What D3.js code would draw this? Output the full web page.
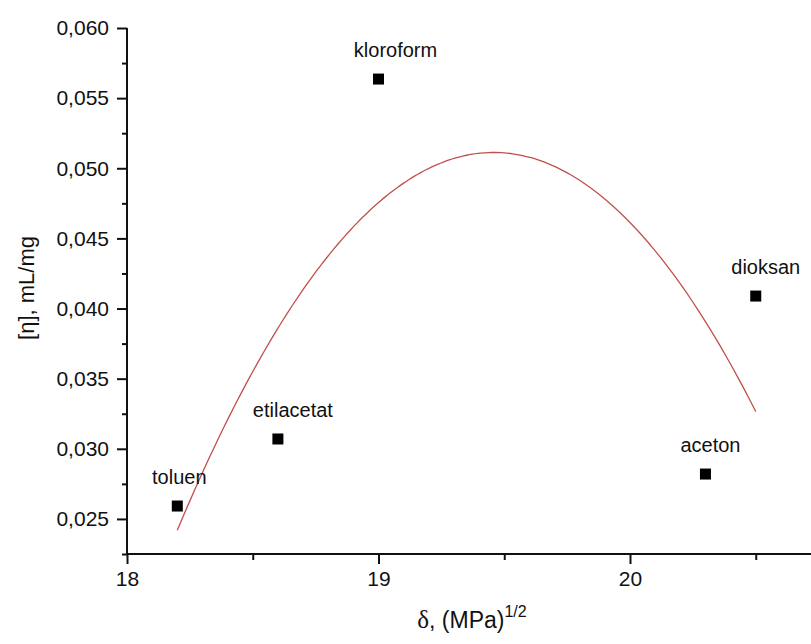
<!DOCTYPE html>
<html>
<head>
<meta charset="utf-8">
<script src="https://cdn.jsdelivr.net/npm/d3@7"></script>
<style>
  html, body { margin: 0; padding: 0; background: #fff; }
  svg { display: block; }
</style>
</head>
<body>
<div id="chart"></div>
<script>

// solvents and measured values
var solvents = ['toluen', 'etilacetat', 'kloroform', 'aceton', 'dioksan'];
var delta = [18.2, 18.6, 19.0, 20.3, 20.5];
var viscosity = [0.02592, 0.0307, 0.05636, 0.0282, 0.04089];

var xTicks = [18, 19, 20];
var xMinorTicks = [18.5, 19.5, 20.5];
var yTicks = [0.025, 0.030, 0.035, 0.040, 0.045, 0.050, 0.055, 0.060];
var yMinorTicks = [0.0225, 0.0275, 0.0325, 0.0375, 0.0425, 0.0475, 0.0525, 0.0575];

// hand placed label shifts (px), the labels were moved manually in the original
var labelDx = [2, 15, 17, 5, 10];

var width = 811,
    height = 644,
    margin = { top: 28, left: 127, bottom: 90 };

// the x axis runs on past the right edge of the picture
var x = d3.scaleLinear().domain([18, 21]).range([margin.left, margin.left + 3 * 251.5]);
var y = d3.scaleLinear().domain([0.0225, 0.060]).range([height - margin.bottom, margin.top]);

var fmt = function (d) { return d3.format('.3f')(d).replace('.', ','); };

/**
 * least squares 2nd order polynomial around the mean of xs
 * @return {Object} a + b*u + c*u^2 with u = x - m
 */
function polyFit2(xs, ys) {
  var n = xs.length, m = d3.mean(xs);
  var s2 = 0, s3 = 0, s4 = 0, sy = 0, suy = 0, su2y = 0;
  xs.forEach(function (xv, i) {
    var u = xv - m, yv = ys[i];
    s2 += u * u; s3 += u * u * u; s4 += u * u * u * u;
    sy += yv; suy += u * yv; su2y += u * u * yv;
  });
  // solve the 3x3 normal equations (sum u = 0)
  var c = (su2y - s2 * sy / n - s3 * suy / s2) / (s4 - s2 * s2 / n - s3 * s3 / s2);
  var a = (sy - s2 * c) / n;
  var b = (suy - s3 * c) / s2;
  return { a: a, b: b, c: c, m: m };
}

var fit = polyFit2(delta, viscosity);
var fitX = d3.range(0, 101).map(function (i) {
  return delta[0] + (delta[delta.length - 1] - delta[0]) * i / 100;
});
var fitY = fitX.map(function (xv) {
  var u = xv - fit.m;
  return fit.a + fit.b * u + fit.c * u * u;
});

var svg = d3.select('#chart').append('svg')
    .attr('width', width)
    .attr('height', height)
    .style('font-family', 'Arial, "Liberation Sans", sans-serif');

//
// axes
//
var xAxis = svg.append('g')
    .attr('class', 'axis x')
    .attr('transform', 'translate(0,' + y.range()[0] + ')')
    .call(d3.axisBottom(x).tickValues(xTicks).tickSize(10).tickPadding(7).tickFormat(d3.format('d')));

svg.append('g')
    .attr('class', 'axis x minor')
    .attr('transform', 'translate(0,' + y.range()[0] + ')')
    .call(d3.axisBottom(x).tickValues(xMinorTicks).tickSize(6).tickFormat(''))
    .select('.domain').remove();

var yAxis = svg.append('g')
    .attr('class', 'axis y')
    .attr('transform', 'translate(' + margin.left + ',0)')
    .call(d3.axisLeft(y).tickValues(yTicks).tickSize(10).tickPadding(8).tickFormat(fmt));

svg.append('g')
    .attr('class', 'axis y minor')
    .attr('transform', 'translate(' + margin.left + ',0)')
    .call(d3.axisLeft(y).tickValues(yMinorTicks).tickSize(5).tickFormat(''))
    .select('.domain').remove();

// plain lines, no end caps from d3
xAxis.select('.domain').attr('d', 'M' + x.range()[0] + ',0H' + x.range()[1]);
yAxis.select('.domain').attr('d', 'M0,' + y.range()[0] + 'V' + y.range()[1]);

svg.selectAll('.axis path, .axis line')
    .attr('stroke', '#111')
    .attr('stroke-width', 2);

svg.selectAll('.axis text')
    .attr('fill', '#111')
    .style('font-size', '21px');

//
// fit curve
//
svg.append('path')
    .datum(d3.zip(fitX, fitY))
    .attr('fill', 'none')
    .attr('stroke', '#c0504d')
    .attr('stroke-width', 1.3)
    .attr('d', d3.line()
      .x(function (d) { return x(d[0]); })
      .y(function (d) { return y(d[1]); })
      .curve(d3.curveMonotoneX));

//
// points and labels
//
var pts = svg.append('g').selectAll('g.point')
    .data(solvents)
    .enter()
    .append('g')
    .attr('class', 'point')
    .attr('transform', function (d, i) {
      return 'translate(' + x(delta[i]) + ',' + y(viscosity[i]) + ')';
    });

pts.append('rect')
    .attr('x', -5.5)
    .attr('y', -5.5)
    .attr('width', 11)
    .attr('height', 11)
    .attr('fill', '#000');

pts.append('text')
    .attr('x', function (d, i) { return labelDx[i]; })
    .attr('y', -22)
    .attr('text-anchor', 'middle')
    .attr('fill', '#111')
    .style('font-size', '20px')
    .text(function (d) { return d; });

//
// axis titles
//
var xt = svg.append('text')
    .attr('x', 472)
    .attr('y', 628)
    .attr('text-anchor', 'middle')
    .attr('fill', '#111')
    .style('font-size', '23px');
xt.append('tspan')
    .style('font-family', '"Times New Roman", "Liberation Serif", serif')
    .style('font-size', '25px')
    .text('\u03b4');
xt.append('tspan').text(', (MPa)');
xt.append('tspan')
    .attr('dy', -11)
    .style('font-size', '16px')
    .text('1/2');

svg.append('text')
    .attr('transform', 'translate(34,288) rotate(-90)')
    .attr('text-anchor', 'middle')
    .attr('fill', '#111')
    .style('font-size', '22px')
    .text('[\u03b7], mL/mg');

</script>
</body>
</html>
